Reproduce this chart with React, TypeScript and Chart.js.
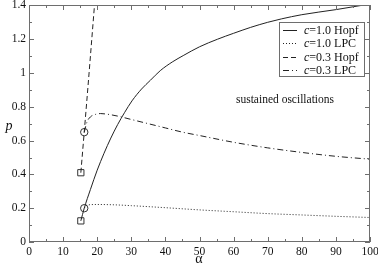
import React, { useEffect, useRef } from "react";
import { Chart, registerables } from "chart.js";

Chart.register(...registerables);

// c = 1.0 Hopf (solid)
const hopf10X = [15.2, 16.2, 18, 20, 22, 24, 26, 28, 30.2, 33, 35.6, 38.5, 42, 45.4, 50, 55.3, 60, 65, 70, 74, 80, 90, 97.5];
const hopf10Y = [0.125, 0.2, 0.31, 0.425, 0.525, 0.615, 0.695, 0.765, 0.835, 0.905, 0.957, 1.014, 1.065, 1.105, 1.155, 1.2, 1.235, 1.27, 1.3, 1.32, 1.345, 1.375, 1.4];
// c = 1.0 LPC (dotted)
const lpc10X = [16.2, 17, 20, 25, 30, 40, 50, 60, 70, 80, 90, 100];
const lpc10Y = [0.2, 0.218, 0.222, 0.22, 0.215, 0.203, 0.19, 0.179, 0.168, 0.16, 0.152, 0.145];
// c = 0.3 Hopf (dashed)
const hopf03X = [15.2, 16.2, 17.5, 19.2];
const hopf03Y = [0.41, 0.65, 0.97, 1.4];
// c = 0.3 LPC (dash-dot)
const lpc03X = [16.2, 17, 18, 19.5, 21, 23, 26, 30, 35, 40, 45, 50, 60, 70, 80, 90, 100];
const lpc03Y = [0.65, 0.71, 0.74, 0.755, 0.76, 0.756, 0.745, 0.725, 0.7, 0.675, 0.65, 0.63, 0.59, 0.557, 0.53, 0.507, 0.49];
// markers
const circleX = [16.2, 16.2];
const circleY = [0.2, 0.65];
const squareX = [15.2, 15.2];
const squareY = [0.125, 0.41];

const xTicks = [0, 10, 20, 30, 40, 50, 60, 70, 80, 90, 100];
const yTicks = [0, 0.2, 0.4, 0.6, 0.8, 1, 1.2, 1.4];

const legendLabels = ["=1.0 Hopf", "=1.0 LPC", "=0.3 Hopf", "=0.3 LPC"];
const legendDashes: number[][] = [[], [1, 2], [5, 3], [6, 3, 1, 3]];
const annotationText = "sustained oscillations";

const SERIF = "'Liberation Serif', 'DejaVu Serif', serif";
const LINE = "#222";
const FRAME = "#6e6e6e";

const pts = (xs: number[], ys: number[]) => xs.map((x, i) => ({ x, y: ys[i] }));

const decorPlugin = {
  id: "decor",
  afterDraw(chart: any) {
    const ctx: CanvasRenderingContext2D = chart.ctx;
    const ca = chart.chartArea;
    const xs = chart.scales.x;
    const ys = chart.scales.y;
    const L = Math.round(ca.left);
    const R = Math.round(ca.right);
    const T = Math.round(ca.top);
    const B = Math.round(ca.bottom);
    ctx.save();
    ctx.setLineDash([]);
    ctx.globalAlpha = 1;
    ctx.fillStyle = FRAME;
    // frame
    ctx.fillRect(L, T, R - L, 1);
    ctx.fillRect(L, B - 1, R - L, 1);
    ctx.fillRect(L, T, 1, B - T);
    ctx.fillRect(R - 1, T, 1, B - T);
    // x ticks
    for (let v = 0; v <= 100; v += 5) {
      const px = Math.round(xs.getPixelForValue(v));
      const len = v % 10 === 0 ? 5 : 3;
      ctx.fillRect(px, B - len, 1, len);
      ctx.fillRect(px, T, 1, len);
    }
    // y ticks
    for (let i = 0; i <= 14; i++) {
      const py = Math.round(ys.getPixelForValue(i / 10));
      const len = i % 2 === 0 ? 5 : 3;
      ctx.fillRect(L, py, len, 1);
      ctx.fillRect(R - len, py, len, 1);
    }

    // legend box
    const bx = 279, by = 22, bw = 86, bh = 55;
    ctx.fillStyle = "#fff";
    ctx.fillRect(bx, by, bw, bh);
    ctx.fillStyle = FRAME;
    ctx.fillRect(bx, by, bw, 1);
    ctx.fillRect(bx, by + bh - 1, bw, 1);
    ctx.fillRect(bx, by, 1, bh);
    ctx.fillRect(bx + bw - 1, by, 1, bh);
    const rowY = [30, 43.3, 56.7, 70];
    for (let i = 0; i < legendLabels.length; i++) {
      const y = Math.round(rowY[i]) + 0.5;
      ctx.strokeStyle = LINE;
      ctx.lineWidth = 1;
      ctx.setLineDash(legendDashes[i]);
      ctx.beginPath();
      ctx.moveTo(283, y);
      ctx.lineTo(297, y);
      ctx.stroke();
      ctx.setLineDash([]);
      ctx.fillStyle = "#111";
      ctx.textBaseline = "middle";
      ctx.textAlign = "left";
      ctx.font = `italic 12px ${SERIF}`;
      ctx.fillText("c", 304, y);
      const cw = ctx.measureText("c").width;
      ctx.font = `12px ${SERIF}`;
      ctx.fillText(legendLabels[i], 304 + cw, y);
    }

    // annotation
    ctx.fillStyle = "#111";
    ctx.font = `11.5px ${SERIF}`;
    ctx.textAlign = "center";
    ctx.textBaseline = "middle";
    ctx.fillText(annotationText, 285, 100);

    // axis titles
    ctx.font = `italic 14px ${SERIF}`;
    ctx.fillText("p", 9, 126);
    ctx.font = `14px ${SERIF}`;
    ctx.fillText("\u03b1", 199, 259);
    ctx.restore();
  },
};

export default function App() {
  const ref = useRef<HTMLCanvasElement | null>(null);
  useEffect(() => {
    document.body.style.margin = "0";
    const canvas = ref.current;
    if (!canvas) return;
    const lineBase = {
      showLine: true,
      borderColor: LINE,
      borderWidth: 1,
      pointRadius: 0,
      pointHoverRadius: 0,
      fill: false,
    };
    const chart = new Chart(canvas, {
      type: "scatter",
      data: {
        datasets: [
          { ...lineBase, label: "c=1.0 Hopf", data: pts(hopf10X, hopf10Y), cubicInterpolationMode: "monotone" },
          { ...lineBase, label: "c=1.0 LPC", data: pts(lpc10X, lpc10Y), borderDash: [1, 2], cubicInterpolationMode: "monotone" },
          { ...lineBase, label: "c=0.3 Hopf", data: pts(hopf03X, hopf03Y), borderDash: [5, 3], tension: 0 },
          { ...lineBase, label: "c=0.3 LPC", data: pts(lpc03X, lpc03Y), borderDash: [6, 3, 1, 3], cubicInterpolationMode: "monotone" },
          {
            label: "circles",
            data: pts(circleX, circleY),
            showLine: false,
            pointStyle: "circle",
            pointRadius: 3.7,
            pointBorderColor: "#333",
            pointBackgroundColor: "rgba(0,0,0,0)",
            pointBorderWidth: 1,
          },
          {
            label: "squares",
            data: pts(squareX, squareY),
            showLine: false,
            pointStyle: "rect",
            pointRadius: 4.4,
            pointBorderColor: "#333",
            pointBackgroundColor: "rgba(0,0,0,0)",
            pointBorderWidth: 1,
          },
        ],
      } as any,
      options: {
        animation: false,
        responsive: false,
        maintainAspectRatio: false,
        layout: { padding: { top: 4, right: 8, left: 0, bottom: 0 } },
        plugins: { legend: { display: false }, tooltip: { enabled: false } },
        events: [],
        scales: {
          x: {
            type: "linear",
            min: 0,
            max: 100,
            grid: { display: false, drawTicks: false },
            border: { display: false },
            afterBuildTicks: (s: any) => {
              s.ticks = xTicks.map((v) => ({ value: v }));
            },
            afterFit: (s: any) => {
              s.height = 23;
              s.paddingLeft = 0;
              s.paddingRight = 0;
            },
            ticks: {
              padding: 3,
              maxRotation: 0,
              autoSkip: false,
              color: "#111",
              font: { family: SERIF, size: 11.5 },
              callback: (v: any) => String(v),
            },
          },
          y: {
            type: "linear",
            min: 0,
            max: 1.4,
            grid: { display: false, drawTicks: false },
            border: { display: false },
            afterBuildTicks: (s: any) => {
              s.ticks = yTicks.map((v) => ({ value: v }));
            },
            afterFit: (s: any) => {
              s.width = 29;
              s.paddingTop = 0;
              s.paddingBottom = 0;
            },
            ticks: {
              padding: 3,
              autoSkip: false,
              color: "#111",
              font: { family: SERIF, size: 11.5 },
              callback: (v: any) => String(Number(Number(v).toFixed(1))),
            },
          },
        },
      } as any,
      plugins: [decorPlugin],
    });
    return () => chart.destroy();
  }, []);
  return (
    <div style={{ width: 378, height: 265 }}>
      <canvas ref={ref} width={378} height={265} style={{ display: "block" }} />
    </div>
  );
}
